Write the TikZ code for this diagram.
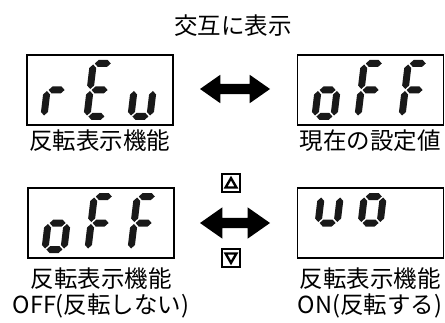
\documentclass[tikz,border=0pt]{standalone}
\usepackage{fontspec}
\newfontfamily\jpfont{Noto Sans CJK JP}
\usetikzlibrary{shapes.geometric,shapes.arrows}
% segments of one lcd digit, upright, 26 x 60
\newcommand\lcdsega{(5,56.5)--(8.5,60)--(17.5,60)--(21,56.5)--(17.5,53)--(8.5,53)--cycle}
\newcommand\lcdsegg{(5,30)--(8.5,33.5)--(17.5,33.5)--(21,30)--(17.5,26.5)--(8.5,26.5)--cycle}
\newcommand\lcdsegd{(5,3.5)--(8.5,7)--(17.5,7)--(21,3.5)--(17.5,0)--(8.5,0)--cycle}
\newcommand\lcdsegf{(3.5,31)--(7,34.5)--(7,52)--(3.5,55.5)--(0,52)--(0,34.5)--cycle}
\newcommand\lcdsege{(3.5,4.5)--(7,8)--(7,25.5)--(3.5,29)--(0,25.5)--(0,8)--cycle}
\newcommand\lcdsegb{(22.5,31)--(26,34.5)--(26,52)--(22.5,55.5)--(19,52)--(19,34.5)--cycle}
\newcommand\lcdsegc{(22.5,4.5)--(26,8)--(26,25.5)--(22.5,29)--(19,25.5)--(19,8)--cycle}
\begin{document}
\begin{tikzpicture}[x=1pt,y=1pt,font=\jpfont\fontsize{23.5}{26}\selectfont,
 lcd/.style={draw,line width=1.4pt,minimum width=146pt,minimum height=70pt,inner sep=0pt},
 seg/.style={fill=black!90,xslant=.12},
 lbl/.style={align=center,inner sep=0pt},
 xchg/.style={double arrow,fill=black,inner sep=5pt,minimum height=70pt,double arrow head extend=9pt,double arrow tip angle=70},
 btn/.style={draw,line width=1.4pt,minimum size=18pt,inner sep=0pt},
 tri/.style={draw,line width=2.4pt,regular polygon,regular polygon sides=3,minimum size=12.5pt,inner sep=0pt}]
\useasboundingbox (0,0) rectangle (445,322);
\node (title) at (233,296) {交互に表示};
% displays
\node[lcd] (rev) at (100,232) {};
\node[lcd] (cur) at (370.5,232) {};
\node[lcd] (off) at (101,99) {};
\node[lcd] (on) at (370.5,99) {};
\foreach \dx/\dy/\segs in {40/202/{e,g},83/202/{a,f,g,e,d},127/202/{e,d,c},
  311/202/{e,g,c,d},354/202/{a,f,g,e},398/202/{a,f,g,e},
  41/69/{e,g,c,d},84/69/{a,f,g,e},127/69/{a,f,g,e},
  311/69/{f,b,g},354/69/{a,f,b,g}}
  \foreach \s in \segs
    \fill[shift={(\dx,\dy)},seg] \csname lcdseg\s\endcsname;
\node[lbl] (revlbl) at (100,181) {反転表示機能};
\node[lbl] (curlbl) at (370,181) {現在の設定値};
\node[lbl] (offlbl) at (101,29) {反転表示機能\\OFF(反転しない)};
\node[lbl] (onlbl) at (370,29) {反転表示機能\\ON(反転する)};
% arrows and keys
\node[xchg] (alt) at (235,233) {};
\node[xchg,double arrow head extend=10.5pt] (sel) at (235,99) {};
\node[btn] (up) at (231,139) {};
\node[btn] (down) at (231,64) {};
\node[tri,yshift=-1.4pt] at (up) {};
\node[tri,shape border rotate=180,yshift=1.4pt] at (down) {};
\end{tikzpicture}
\end{document}
